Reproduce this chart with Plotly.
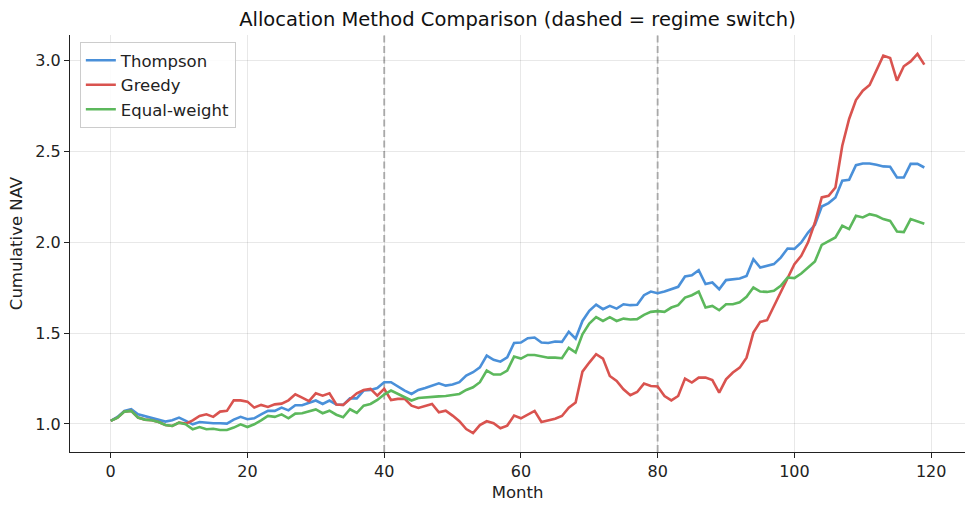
import plotly.graph_objects as go

months = list(range(120))

thompson = [
    1.017, 1.039, 1.072, 1.081, 1.053, 1.044, 1.035, 1.026, 1.013, 1.020,
    1.035, 1.017, 0.998, 1.011, 1.006, 1.004, 1.004, 1.002, 1.024, 1.039,
    1.026, 1.031, 1.053, 1.072, 1.072, 1.090, 1.075, 1.103, 1.103, 1.114,
    1.129, 1.110, 1.129, 1.107, 1.105, 1.141, 1.141, 1.184, 1.187, 1.198,
    1.230, 1.230, 1.206, 1.184, 1.165, 1.187, 1.198, 1.211, 1.224, 1.211,
    1.217, 1.230, 1.266, 1.285, 1.312, 1.376, 1.353, 1.343, 1.367, 1.446,
    1.448, 1.472, 1.476, 1.448, 1.446, 1.454, 1.452, 1.507, 1.470, 1.567,
    1.623, 1.657, 1.632, 1.650, 1.635, 1.659, 1.654, 1.656, 1.709, 1.729,
    1.720, 1.729, 1.742, 1.755, 1.812, 1.819, 1.847, 1.770, 1.779, 1.742,
    1.792, 1.795, 1.801, 1.815, 1.907, 1.861, 1.871, 1.880, 1.916, 1.966,
    1.964, 1.999, 2.054, 2.096, 2.197, 2.216, 2.247, 2.339, 2.344, 2.425,
    2.434, 2.434, 2.427, 2.418, 2.416, 2.357, 2.357, 2.432, 2.432, 2.412,
]

greedy = [
    1.017, 1.035, 1.068, 1.072, 1.035, 1.024, 1.020, 1.011, 0.994, 0.989,
    1.007, 1.002, 1.020, 1.044, 1.053, 1.039, 1.068, 1.072, 1.130, 1.130,
    1.123, 1.090, 1.105, 1.094, 1.108, 1.112, 1.130, 1.163, 1.145, 1.126,
    1.169, 1.156, 1.169, 1.107, 1.105, 1.138, 1.169, 1.187, 1.193, 1.156,
    1.193, 1.132, 1.138, 1.138, 1.101, 1.088, 1.101, 1.110, 1.064, 1.073,
    1.046, 1.015, 0.972, 0.950, 0.994, 1.015, 1.004, 0.976, 0.991, 1.046,
    1.031, 1.053, 1.072, 1.011, 1.020, 1.029, 1.044, 1.090, 1.118, 1.288,
    1.338, 1.384, 1.360, 1.264, 1.237, 1.191, 1.158, 1.176, 1.222, 1.209,
    1.206, 1.154, 1.130, 1.154, 1.250, 1.228, 1.255, 1.255, 1.242, 1.173,
    1.246, 1.283, 1.310, 1.365, 1.503, 1.562, 1.571, 1.650, 1.724, 1.806,
    1.880, 1.926, 2.000, 2.109, 2.247, 2.256, 2.302, 2.532, 2.679, 2.783,
    2.835, 2.866, 2.945, 3.028, 3.015, 2.890, 2.969, 2.996, 3.037, 2.978,
]

equal_weight = [
    1.017, 1.035, 1.068, 1.072, 1.035, 1.024, 1.020, 1.011, 0.994, 0.989,
    1.007, 0.998, 0.971, 0.983, 0.971, 0.974, 0.967, 0.967, 0.980, 0.998,
    0.983, 0.998, 1.020, 1.044, 1.039, 1.053, 1.031, 1.057, 1.059, 1.068,
    1.080, 1.059, 1.073, 1.051, 1.037, 1.081, 1.061, 1.101, 1.110, 1.132,
    1.162, 1.184, 1.165, 1.147, 1.129, 1.143, 1.147, 1.151, 1.152, 1.154,
    1.158, 1.165, 1.187, 1.202, 1.230, 1.294, 1.272, 1.272, 1.294, 1.371,
    1.360, 1.380, 1.380, 1.371, 1.365, 1.365, 1.362, 1.419, 1.393, 1.494,
    1.553, 1.588, 1.567, 1.588, 1.567, 1.580, 1.575, 1.577, 1.601, 1.617,
    1.621, 1.617, 1.641, 1.654, 1.696, 1.709, 1.729, 1.641, 1.650, 1.626,
    1.659, 1.659, 1.670, 1.700, 1.751, 1.729, 1.727, 1.733, 1.760, 1.806,
    1.803, 1.828, 1.861, 1.894, 1.986, 2.008, 2.027, 2.091, 2.073, 2.146,
    2.137, 2.155, 2.146, 2.128, 2.118, 2.060, 2.056, 2.128, 2.113, 2.102,
]

regime_switches = [40, 80]
x_ticks = [0, 20, 40, 60, 80, 100, 120]
y_ticks = [1.0, 1.5, 2.0, 2.5, 3.0]

series = [
    ("Thompson", thompson, "#4a90d9"),
    ("Greedy", greedy, "#d9534f"),
    ("Equal-weight", equal_weight, "#5cb85c"),
]

fig = go.Figure()
for name, vals, color in series:
    fig.add_trace(go.Scatter(x=months, y=vals, mode="lines", name=name,
                             line=dict(color=color, width=2.6)))

for xs in regime_switches:
    fig.add_shape(type="line", xref="x", yref="paper", x0=xs, x1=xs, y0=0, y1=1,
                  line=dict(color="rgba(128,128,128,0.55)", width=2, dash="7px,3.5px"),
                  layer="below")

all_vals = thompson + greedy + equal_weight
ymin, ymax = min(all_vals), max(all_vals)
ypad = (ymax - ymin) * 0.05
xpad = (months[-1] - months[0]) * 0.05

font = "DejaVu Sans, Arial, sans-serif"
fig.update_layout(
    width=975, height=513,
    margin=dict(l=70, r=10, t=35, b=61),
    paper_bgcolor="white", plot_bgcolor="white",
    font=dict(family=font, size=16, color="#222"),
    title=dict(text="Allocation Method Comparison (dashed = regime switch)",
               x=(70 + 965) / 2 / 975, xanchor="center",
               y=1 - 19 / 513, yanchor="middle", yref="container",
               font=dict(size=19.5, color="#111")),
    showlegend=True,
    legend=dict(x=0.011, y=0.983, xanchor="left", yanchor="top",
                bgcolor="rgba(255,255,255,0.85)", bordercolor="#cccccc", borderwidth=1,
                font=dict(size=16.5, color="#222"), tracegroupgap=0),
    xaxis=dict(range=[months[0] - xpad, months[-1] + xpad], tickvals=x_ticks,
               showgrid=True, gridcolor="rgba(0,0,0,0.09)", gridwidth=1,
               zeroline=False, showline=True, linecolor="#222", linewidth=1.2,
               ticks="outside", ticklen=5, tickcolor="#222",
               title=dict(text="Month", font=dict(size=16.5), standoff=6),
               tickfont=dict(size=16)),
    yaxis=dict(range=[ymin - ypad, ymax + ypad], tickvals=y_ticks,
               tickformat=".1f",
               showgrid=True, gridcolor="rgba(0,0,0,0.09)", gridwidth=1,
               zeroline=False, showline=True, linecolor="#222", linewidth=1.2,
               ticks="outside", ticklen=5, tickcolor="#222",
               title=dict(text="Cumulative NAV", font=dict(size=16.5), standoff=8),
               tickfont=dict(size=16)),
)

fig.write_html("out.html")
